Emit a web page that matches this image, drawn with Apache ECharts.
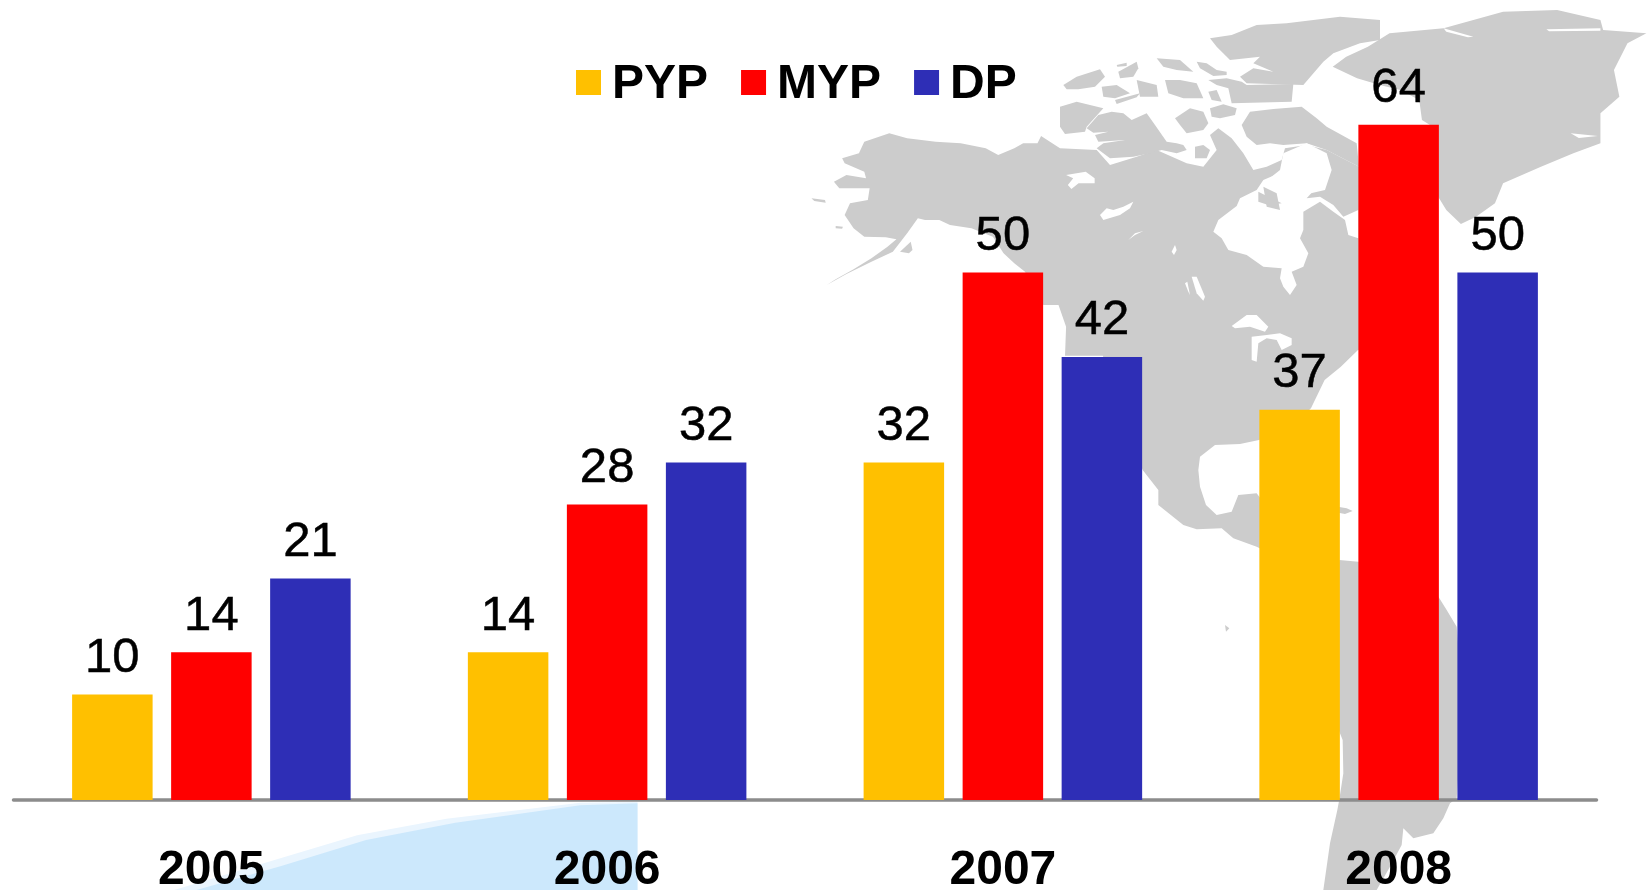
<!DOCTYPE html>
<html lang="en">

<head>
    <meta charset="UTF-8">
    <title>PYP MYP DP</title>
    <style>
        html, body { margin: 0; padding: 0; background: #fff; }
    </style>
</head>

<body>
    <div id="main" style="width: 1648px; height: 890px"></div>
    <script src="https://cdn.jsdelivr.net/npm/echarts@6/dist/echarts.min.js"></script>
    <script type="text/javascript">
        var years = ['2005', '2006', '2007', '2008'];
        var pypValues = [10, 14, 32, 37];
        var mypValues = [14, 28, 50, 64];
        var dpValues = [21, 32, 42, 50];

        // background map, traced in a few different crop scales
        function crop(x0, y0, sx, sy, list) {
            return list.map(function(p) {
                return [x0 + p[0] / sx, y0 + p[1] / sy];
            });
        }
        function cropA(list) { return crop(1040, 10, 3, 3, list); }
        function cropB(list) { return crop(800, 120, 2.8, 3, list); }
        function cropC(list) { return crop(1100, 170, 3, 3, list); }
        function cropD(list) { return crop(800, 0, 1.849, 3, list); }
        function cropE(list) { return crop(1100, 440, 3, 3, list); }

        var mainland = [].concat(
            cropB([[118, 115], [165, 100], [180, 65], [250, 40], [300, 55], [380, 65], [450, 70], [520, 85], [555, 105], [600, 85], [625, 70], [665, 70], [675, 48]]),
            cropA([[60, 415], [170, 420], [210, 465], [290, 440], [350, 420], [440, 460], [490, 470], [530, 420], [510, 375], [535, 355], [575, 385], [610, 430], [640, 480], [680, 470], [725, 450], [735, 415], [800, 405], [860, 420], [957, 470]]),
            [[1400, 140], [1400, 345], [1358, 350]],
            cropD([[1000, 1100], [970, 1140], [945, 1224]]),
            [[1290, 430], [1259, 440]],
            cropE([[420, 12], [345, 15], [300, 50], [295, 90], [300, 140], [318, 195], [350, 225], [395, 215], [415, 165], [470, 160], [500, 200], [500, 335], [470, 320], [400, 295], [365, 265], [290, 268], [250, 255], [175, 195], [175, 150], [128, 90]]),
            cropD([[560, 1067], [490, 1067], [492, 980], [478, 915], [450, 915]]),
            cropB([[630, 455], [600, 430], [570, 400], [540, 350], [480, 325], [420, 315], [390, 300], [350, 300], [330, 295], [300, 340], [260, 395], [200, 425], [130, 462], [75, 495], [100, 478], [150, 448], [200, 415], [245, 380], [270, 358], [240, 352], [180, 350], [150, 325], [125, 285], [140, 250], [190, 240], [195, 205], [110, 205], [95, 185], [130, 165], [185, 175], [180, 155], [125, 130]])
        );
        var southAmerica = cropE([[718, 360], [775, 365], [1012, 465], [1040, 510], [1070, 560], [1090, 800], [1070, 1075], [1050, 1090], [1030, 1135], [1000, 1180], [940, 1195], [910, 1165], [905, 1215], [870, 1280], [830, 1350], [670, 1350], [690, 1210], [712, 1110], [718, 1078], [730, 1000], [728, 900], [716, 870], [700, 500]]);
        var greenland = cropD([[985, 200], [1010, 170], [1050, 140], [1090, 100], [1190, 85], [1300, 35], [1400, 30], [1480, 60], [1485, 90], [1565, 100], [1530, 130], [1505, 210], [1515, 290], [1480, 340], [1480, 430], [1430, 460], [1370, 500], [1300, 550], [1285, 610], [1250, 650], [1222, 672], [1195, 630], [1180, 590], [1170, 380], [1150, 360], [1145, 300], [1110, 270], [1072, 255], [1030, 235]]);

        var greyShapes = [
            mainland, southAmerica, greenland,
            cropB([[32, 235], [70, 240], [72, 248], [40, 243]]),
            cropB([[280, 395], [310, 365], [315, 390], [305, 400]]),
            cropB([[100, 318], [120, 320], [118, 326], [100, 325]]),
            cropE([[700, 198], [740, 205], [758, 213], [735, 222], [700, 215]]),
            cropE([[375, 555], [388, 565], [378, 575]]),
            cropA([[60, 290], [110, 275], [190, 295], [140, 350], [135, 365], [75, 372], [60, 350]]),
            cropA([[140, 355], [175, 315], [215, 305], [250, 310], [275, 330], [320, 310], [345, 345], [380, 395], [410, 400], [430, 405], [440, 420], [410, 430], [365, 420], [330, 430], [280, 440], [210, 445], [170, 415], [190, 400], [255, 390], [175, 395], [165, 375], [205, 365], [160, 368]]),
            cropA([[405, 325], [450, 295], [490, 305], [505, 340], [490, 360], [440, 370], [420, 345]]),
            cropA([[510, 295], [550, 283], [590, 295], [585, 315], [540, 325], [515, 320]]),
            cropA([[605, 345], [630, 305], [700, 297], [785, 290], [830, 325], [860, 350], [950, 400], [957, 470], [860, 420], [800, 400], [730, 405], [690, 400], [650, 405], [620, 380]]),
            cropA([[465, 410], [490, 405], [510, 420], [500, 445], [465, 445]]),
            cropA([[70, 225], [110, 200], [180, 178], [195, 200], [165, 230], [115, 238], [80, 238]]),
            cropA([[185, 230], [230, 225], [270, 250], [225, 265], [190, 260]]),
            cropA([[235, 185], [290, 155], [295, 175], [280, 200], [240, 205]]),
            cropA([[230, 165], [260, 158], [260, 168], [232, 170]]),
            cropA([[290, 210], [350, 225], [355, 260], [300, 260]]),
            cropA([[225, 270], [300, 250], [290, 262], [230, 282]]),
            cropA([[375, 210], [420, 210], [470, 220], [490, 265], [430, 265], [385, 250]]),
            cropA([[350, 145], [420, 150], [460, 185], [410, 180], [370, 170]]),
            cropA([[470, 155], [500, 160], [530, 180], [560, 185], [560, 195], [520, 198], [480, 175]]),
            cropA([[505, 210], [560, 205], [605, 215], [620, 225], [760, 222], [755, 275], [575, 280], [565, 235], [530, 225]]),
            cropA([[505, 245], [530, 240], [545, 275], [515, 270]]),
            cropA([[510, 85], [575, 75], [650, 45], [740, 40], [900, 20], [1020, 30], [1020, 90], [960, 100], [880, 130], [850, 155], [790, 225], [620, 220], [600, 200], [640, 175], [700, 185], [640, 160], [660, 140], [570, 150], [530, 110]])
        ];

        var whiteShapes = [
            cropB([[745, 165], [800, 155], [825, 175], [825, 190], [780, 190], [760, 207], [750, 195], [765, 175]]),
            cropC([[0, 135], [20, 115], [40, 120], [70, 110], [100, 95], [90, 115], [60, 135], [10, 150]]),
            cropC([[85, 210], [105, 190], [130, 183], [105, 195]]),
            cropC([[215, 245], [225, 225], [230, 240], [222, 255]]),
            cropC([[255, 340], [262, 335], [270, 375], [265, 365]]),
            cropC([[275, 320], [290, 320], [315, 380], [310, 392], [290, 370]]),
            cropC([[395, 468], [440, 435], [470, 435], [505, 470], [495, 485], [450, 470], [405, 475]]),
            cropC([[455, 500], [500, 495], [540, 490], [575, 505], [575, 525], [545, 540], [530, 510], [500, 505], [475, 520], [470, 575], [455, 570]]),
            // Hudson Bay and the strait
            cropC([[340, 185], [355, 150], [410, 108], [420, 85], [470, 60], [490, 30], [560, 0], [680, 0], [670, 30], [620, 85], [660, 80], [700, 105], [730, 140], [775, 120], [775, 205], [745, 195], [735, 150], [700, 125], [660, 95], [610, 125], [610, 180], [600, 205], [625, 250], [610, 290], [575, 305], [590, 345], [570, 375], [550, 350], [540, 325], [545, 295], [490, 290], [440, 255], [385, 240], [365, 205]]),
            cropA([[730, 430], [800, 400], [860, 430], [875, 480], [855, 540], [790, 555], [740, 600], [650, 600], [670, 520], [720, 480]]),
            cropD([[1425, 400], [1475, 408], [1440, 414]]),
            cropD([[1190, 85], [1245, 110], [1235, 112], [1195, 95]]),
            cropD([[1380, 88], [1480, 85], [1480, 92], [1385, 94]])
        ];

        var greyIslands = [
            cropC([[475, 65], [505, 80], [545, 100], [505, 105], [475, 95]]),
            cropA([[670, 530], [710, 550], [720, 600], [680, 590]])
        ];

        var paleBlue = crop(0, 740, 2.24, 3, [[1428, 186], [1300, 188], [1000, 236], [800, 286], [600, 366], [390, 450], [1428, 450]]);
        var strongerBlue = crop(0, 740, 2.24, 3, [[1428, 190], [1300, 196], [1020, 248], [820, 300], [630, 378], [440, 450], [1428, 450]]);

        function polygonList(list, fill) {
            return list.map(function(pts) {
                return {
                    type: 'polygon',
                    silent: true,
                    shape: { points: pts },
                    style: { fill: fill }
                };
            });
        }

        var fontName = '"Liberation Sans", Arial, sans-serif';

        function barSeries(name, values, color) {
            return {
                name: name,
                type: 'bar',
                data: values,
                barWidth: 80.5,
                barGap: '23%',
                itemStyle: { color: color },
                label: {
                    show: true,
                    position: 'top',
                    distance: 11.5,
                    color: '#000',
                    fontFamily: fontName,
                    fontSize: 49,
                    textBorderColor: '#000',
                    textBorderWidth: 0.5
                }
            };
        }

        var myChart = echarts.init(document.getElementById('main'));

        var option = {
            animation: false,
            backgroundColor: '#fff',
            // v6 shrinks the grid to fit the labels otherwise
            grid: { left: 13.5, right: 51.5, top: 61.5, bottom: 90, outerBoundsMode: 'none' },
            graphic: {
                elements: [].concat(
                    polygonList(greyShapes, '#cccccc'),
                    polygonList(whiteShapes, '#ffffff'),
                    polygonList(greyIslands, '#cccccc'),
                    polygonList([paleBlue], '#eaf5fe'),
                    polygonList([strongerBlue], '#cce8fc')
                )
            },
            legend: {
                left: 571,
                top: 56,
                itemWidth: 25,
                itemHeight: 30,
                itemGap: 33,
                // square sits at the top of a taller box, text is a little lower than it
                icon: 'path://M0 0H25V25H0ZM0 30H0',
                data: ['PYP', 'MYP', 'DP'],
                textStyle: {
                    color: '#000',
                    fontFamily: fontName,
                    fontWeight: 'bold',
                    fontSize: 48,
                    padding: [0, 0, 0, 6]
                }
            },
            xAxis: {
                type: 'category',
                data: years,
                offset: 1,
                axisTick: { show: false },
                axisLine: { lineStyle: { color: '#8c8c8c', width: 3.5 } },
                axisLabel: {
                    color: '#000',
                    fontFamily: fontName,
                    fontWeight: 'bold',
                    fontSize: 48,
                    margin: 46
                }
            },
            yAxis: {
                type: 'value',
                show: false,
                min: 0,
                max: 70
            },
            series: [
                barSeries('PYP', pypValues, '#ffc000'),
                barSeries('MYP', mypValues, '#ff0000'),
                barSeries('DP', dpValues, '#2e2eb6')
            ]
        };
        myChart.setOption(option);
    </script>

</body>

</html>
